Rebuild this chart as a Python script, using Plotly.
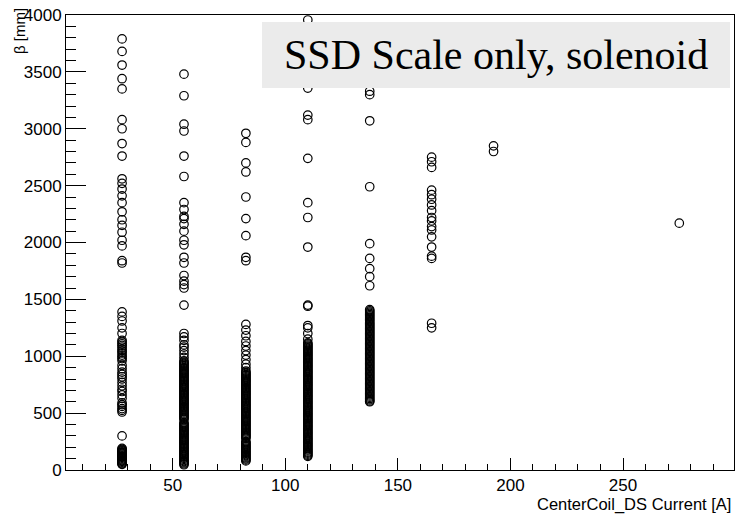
import plotly.graph_objects as go

# Coil current settings (A) and the beta values (mm) measured at each one
currents = [27.5, 55.0, 82.5, 110.0, 137.5, 165.0, 192.5, 275.0]

beta_27 = [3790, 3680, 3560, 3440, 3350, 3080, 3000, 2870, 2760, 2560, 2520,
           2470, 2410, 2350, 2270, 2200, 2150, 2090, 2020, 1970, 1840, 1820,
           1390, 1350, 1310, 1250, 1200, 1140, 1125, 1110, 1095, 1080, 1060,
           1045, 1030, 1010, 995, 980, 960, 920, 890, 860, 840, 820, 800, 770,
           740, 710, 690, 660, 630, 590, 575, 560, 540, 525, 510, 300,
           190, 182, 175, 168, 160, 153, 146, 139, 132, 125, 118, 111, 104,
           97, 90, 83, 76, 69, 62, 55, 50]

beta_55 = [3480, 3290, 3040, 2980, 2760, 2580, 2350, 2290, 2230, 2210, 2160,
           2100, 2020, 1980, 1870, 1820, 1710, 1660, 1630, 1600, 1450,
           1200, 1170, 1140, 1100, 1080, 1050, 1020, 990, 960,
           948, 938, 929, 919, 910, 900, 891, 881, 872, 862, 853, 843, 834,
           824, 815, 805, 796, 786, 777, 767, 758, 748, 739, 729, 720, 710,
           701, 691, 682, 672, 663, 653, 644, 634, 625, 615, 606, 596, 587,
           577, 568, 558, 549, 539, 530, 520, 511, 501, 492, 482, 473, 463,
           454, 444, 416, 406, 397, 387, 378, 368, 359, 349, 340, 330, 321,
           311, 302, 292, 283, 273, 264, 254, 245, 235, 226, 216, 207, 197,
           188, 178, 169, 159, 150, 140, 131, 121, 112, 102, 93, 83, 74, 64,
           55, 46]

beta_82 = [2960, 2880, 2700, 2620, 2400, 2210, 2060, 1870, 1840,
           1280, 1230, 1180, 1130, 1090, 1050, 1010, 970, 930, 900, 870,
           858, 849, 839, 830, 820, 811, 801, 792, 782, 773, 763, 754, 744,
           735, 725, 716, 706, 697, 687, 678, 668, 659, 649, 640, 630, 621,
           611, 602, 592, 583, 573, 564, 554, 545, 535, 526, 516, 507, 497,
           488, 478, 469, 459, 450, 440, 431, 421, 412, 402, 393, 383, 374,
           364, 355, 345, 336, 326, 317, 307, 298, 288, 279, 250, 241, 231,
           222, 212, 203, 193, 184, 174, 165, 155, 146, 136, 127, 117, 108,
           98, 89, 80]

beta_110 = [3956, 3358, 3120, 3080, 2740, 2350, 2220, 1960, 1450, 1440,
            1270, 1250, 1200, 1150,
            1118, 1108, 1099, 1089, 1080, 1070, 1061, 1051, 1042, 1032, 1023,
            1013, 1004, 994, 985, 975, 966, 956, 947, 937, 928, 918, 909, 899,
            890, 880, 871, 861, 852, 842, 833, 823, 814, 804, 795, 785, 776,
            766, 757, 747, 738, 728, 719, 709, 700, 690, 681, 671, 662, 652,
            643, 633, 624, 614, 605, 595, 586, 576, 567, 557, 548, 538, 529,
            519, 510, 500, 491, 481, 472, 462, 453, 443, 434, 424, 415, 405,
            396, 386, 377, 367, 358, 348, 339, 329, 320, 310, 301, 291, 282,
            272, 263, 253, 244, 234, 225, 215, 206, 196, 187, 177, 168, 158,
            149, 139, 130, 120]

beta_137 = [3330, 3300, 3070, 2490, 1990, 1860, 1770, 1700, 1620,
            1410, 1399, 1388, 1377, 1366, 1355, 1344, 1333, 1322, 1311, 1300,
            1289, 1278, 1267, 1256, 1245, 1234, 1223, 1212, 1201, 1190, 1179,
            1168, 1157, 1146, 1135, 1124, 1113, 1102, 1091, 1080, 1069, 1058,
            1047, 1036, 1025, 1014, 1003, 992, 981, 970, 959, 948, 937, 926,
            915, 904, 893, 882, 871, 860, 849, 838, 827, 816, 805, 794, 783,
            772, 761, 750, 739, 728, 717, 706, 695, 684, 673, 662, 651, 640,
            629, 618, 607, 600]

beta_165 = [2750, 2710, 2660, 2460, 2420, 2380, 2330, 2280, 2220, 2190,
            2140, 2110, 2050, 1960, 1880, 1860, 1290, 1250]

beta_192 = [2850, 2800]

beta_275 = [2170]

beta_by_current = [beta_27, beta_55, beta_82, beta_110,
                   beta_137, beta_165, beta_192, beta_275]

x_vals, y_vals = [], []
for cur, betas in zip(currents, beta_by_current):
    for b in betas:
        x_vals.append(cur)
        y_vals.append(b)

W, H = 739, 514
L, R, T, B = 66, 5, 15, 44
pw, ph = W - L - R, H - T - B


def px(xp):
    return (xp - L) / pw


def py(yp):
    return (H - B - yp) / ph


fig = go.Figure()
fig.add_trace(go.Scatter(
    x=x_vals, y=y_vals, mode="markers",
    marker=dict(symbol="circle-open", size=8.5, color="black",
                line=dict(color="black", width=1.2)),
    hoverinfo="x+y", showlegend=False,
))

axis_font = dict(family="Liberation Sans, Arial, sans-serif", size=17, color="black")

fig.update_xaxes(
    range=[2.6, 299.3], showgrid=False, zeroline=False,
    showline=True, linecolor="black", linewidth=1, mirror=True,
    ticks="inside", ticklen=12, tickwidth=1, tickcolor="black",
    tick0=0, dtick=50, tickfont=axis_font, ticklabelstandoff=0,
    minor=dict(ticks="inside", ticklen=6, dtick=10, tick0=0, tickcolor="black", showgrid=False),
)
fig.update_yaxes(
    range=[0, 4000], showgrid=False, zeroline=False,
    showline=True, linecolor="black", linewidth=1, mirror=True,
    ticks="inside", ticklen=20, tickwidth=1, tickcolor="black",
    tick0=0, dtick=500, tickfont=axis_font, ticklabelstandoff=0,
    minor=dict(ticks="inside", ticklen=10, dtick=100, tick0=0, tickcolor="black", showgrid=False),
)

# Title pave
fig.add_shape(type="rect", xref="paper", yref="paper",
              x0=px(262), x1=px(730), y0=py(88), y1=py(22),
              fillcolor="#ebebeb", line=dict(width=0), layer="above")

fig.add_annotation(
    text="SSD Scale only, solenoid", xref="paper", yref="paper",
    x=px(496), y=py(55), xanchor="center", yanchor="middle", showarrow=False,
    font=dict(family="Liberation Serif, Times New Roman, serif", size=42, color="black"),
)

fig.add_annotation(
    text="CenterCoil_DS Current [A]", xref="paper", yref="paper",
    x=px(733), y=py(504), xanchor="right", yanchor="middle", showarrow=False,
    font=dict(family="Liberation Sans, Arial, sans-serif", size=16.5, color="black"),
)

fig.add_annotation(
    text="β [mm]", xref="paper", yref="paper", textangle=-90,
    x=px(19), y=py(6), xanchor="center", yanchor="top", showarrow=False,
    font=dict(family="Liberation Sans, Arial, sans-serif", size=15, color="black"),
)

fig.update_layout(
    width=W, height=H,
    margin=dict(l=L, r=R, t=T, b=B),
    paper_bgcolor="white", plot_bgcolor="white",
)

fig.write_html("out.html")
